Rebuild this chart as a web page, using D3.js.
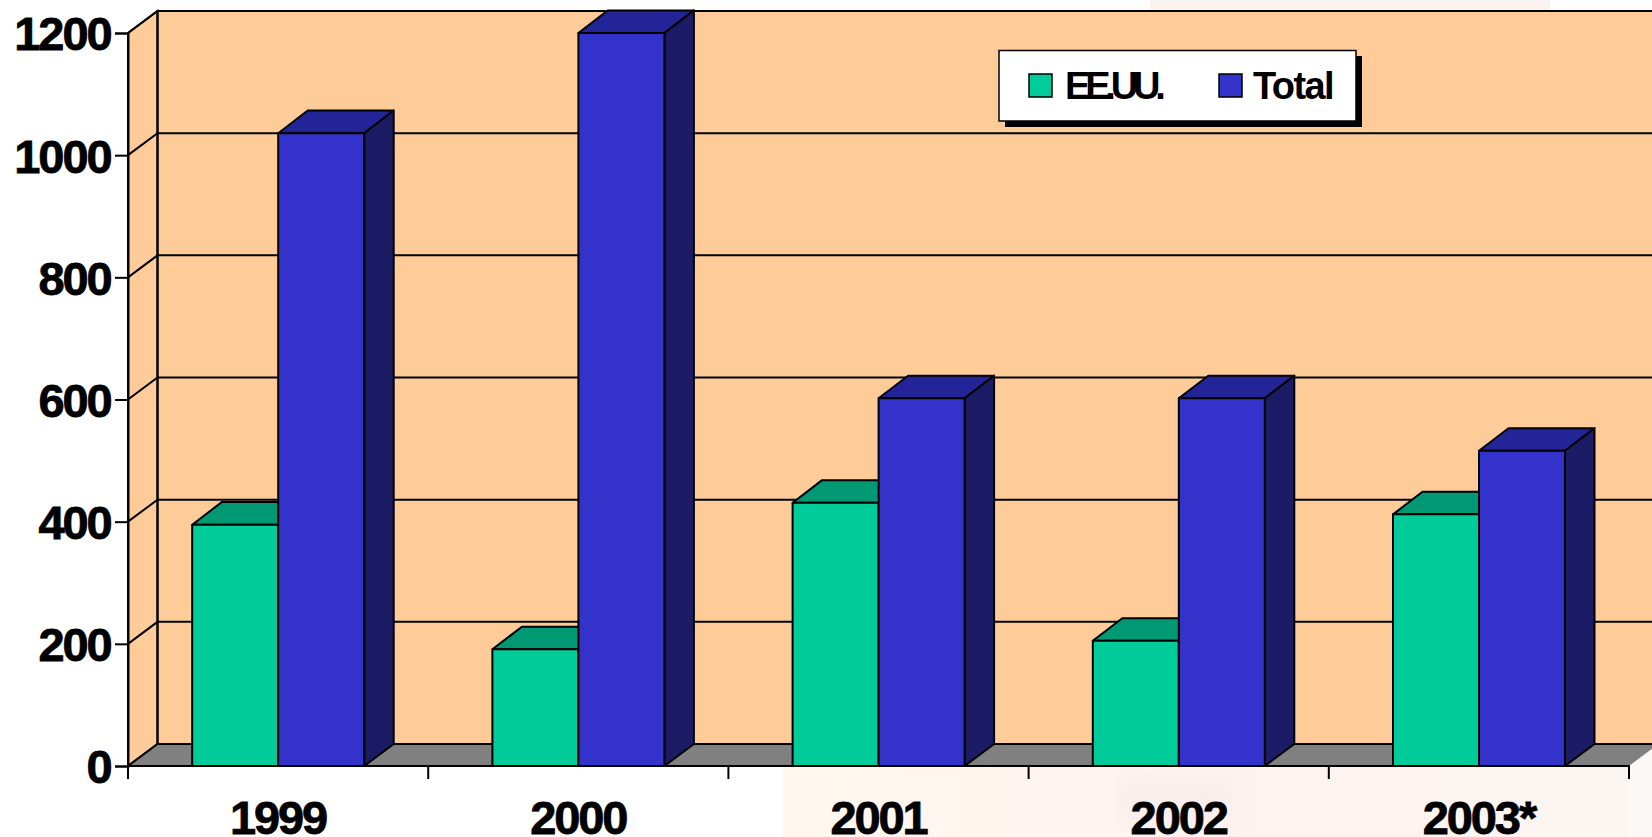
<!DOCTYPE html>
<html><head><meta charset="utf-8">
<script src="https://cdn.jsdelivr.net/npm/d3@7"></script>
<style>html,body{margin:0;padding:0;background:#fff;overflow:hidden}svg{display:block}</style>
</head><body><div id="chart"></div>
<script>
const categories = ["1999","2000","2001","2002","2003*"];
const seriesNames = ["EE.UU.","Total"];
const eeuu = [395,191,431,205,412];
const total = [1036,1200,602,602,516];
const yTicks = [0,200,400,600,800,1000,1200];

const W=1652,H=837, DX=29.5, DY=-22, BDY=-22.6;
const x = d3.scaleBand().domain(categories).range([128,1629]).paddingInner(0).paddingOuter(0);
const y = d3.scaleLinear().domain([0,1200]).range([766,33]);
const inner = d3.scaleBand().domain(seriesNames).range([64.2,236.2]);
const colors = {
  "EE.UU.":{front:"#00CC99",top:"#009973",side:"#006B50"},
  "Total":{front:"#3333CC",top:"#242499",side:"#1B1B66"}
};
const svg = d3.select("#chart").append("svg").attr("width",W).attr("height",H);
const stroke="#000";

// faint background image tones
const defs = svg.append("defs");
const g1 = defs.append("linearGradient").attr("id","bg").attr("x1",0).attr("x2",1).attr("y1",0).attr("y2",0);
g1.append("stop").attr("offset",0).attr("stop-color","#fff8f0");
g1.append("stop").attr("offset",0.5).attr("stop-color","#fdf2ef");
g1.append("stop").attr("offset",1).attr("stop-color","#fbf6f3");
defs.append("filter").attr("id","blur").append("feGaussianBlur").attr("stdDeviation",9);
svg.append("rect").attr("x",783).attr("y",766).attr("width",W-783).attr("height",H-766).attr("fill","url(#bg)");
svg.append("rect").attr("x",1629).attr("y",744).attr("width",23).attr("height",H-744).attr("fill","#fcf8f5");
svg.append("rect").attr("x",1150).attr("y",0).attr("width",400).attr("height",12).attr("fill","#fdf3ee");
svg.append("rect").attr("x",1120).attr("y",775).attr("width",110).attr("height",50).attr("fill","#ece8e6").attr("opacity",0.3).attr("filter","url(#blur)");

const sx=128, ex=x.range()[1];
const y0=y(0), yTop=y(1200);
const poly=(pts)=>d3.line()(pts);

// walls
svg.append("path").attr("d",poly([[sx+DX,yTop+DY],[W+5,yTop+DY],[W+5,y0+DY],[sx+DX,y0+DY]])+"Z").attr("fill","#FFCC99");
svg.append("path").attr("d",poly([[sx,yTop],[sx+DX,yTop+DY],[sx+DX,y0+DY],[sx,y0]])+"Z").attr("fill","#FFCC99").attr("stroke",stroke).attr("stroke-width",2);
// floor
svg.append("path").attr("d",poly([[sx,y0],[sx+DX,y0+DY],[W+5,y0+DY],[W+5,y0+DY+1],[ex,y0]])+"Z").attr("fill","#808080");
// grid
yTicks.forEach(t=>{
  svg.append("path").attr("d",poly([[sx,y(t)],[sx+DX,y(t)+DY],[W+5,y(t)+DY]])).attr("fill","none").attr("stroke",stroke).attr("stroke-width",2);
});
svg.append("line").attr("x1",sx+DX).attr("x2",sx+DX).attr("y1",yTop+DY).attr("y2",y0+DY).attr("stroke",stroke).attr("stroke-width",2);

// bars
const drawBar=(cat,name,v)=>{
  const c=colors[name];
  const a=x(cat)+inner(name), b=a+inner.bandwidth(), t=y(v), g=svg.append("g").attr("stroke",stroke).attr("stroke-width",2).attr("stroke-linejoin","round");
  g.append("path").attr("d",poly([[a,t],[a+DX,t+BDY],[b+DX,t+BDY],[b,t]])+"Z").attr("fill",c.top);
  g.append("path").attr("d",poly([[b,t],[b+DX,t+BDY],[b+DX,y0+DY],[b,y0]])+"Z").attr("fill",c.side);
  g.append("rect").attr("x",a).attr("y",t).attr("width",b-a).attr("height",y0-t).attr("fill",c.front);
};
categories.forEach((cat,i)=>{
  drawBar(cat,"EE.UU.",eeuu[i]);
  drawBar(cat,"Total",total[i]);
});

// axes
const font="'Liberation Sans',Arial,sans-serif";
const yAxis=d3.axisLeft(y).tickValues(yTicks).tickSize(13).tickPadding(4.5).tickFormat(d3.format("d"));
const yG=svg.append("g").attr("transform",`translate(${sx},0)`).call(yAxis);
const xAxis=d3.axisBottom(x).tickSize(13).tickPadding(0).tickValues([]);
const xG=svg.append("g").attr("transform",`translate(0,${y0})`).call(xAxis);
[yG,xG].forEach(g=>{g.selectAll("path.domain").attr("stroke",stroke).attr("stroke-width",2);g.selectAll("line").attr("stroke",stroke).attr("stroke-width",2);});
yG.selectAll("text").attr("font-family",font).attr("font-weight",700).attr("font-size",47).attr("letter-spacing",-2.1).attr("fill","#000").attr("stroke","#000").attr("stroke-width",0.8).attr("dy","0.36em");
xG.select("path.domain").attr("d",`M${sx},13V0H${ex}V13`);
categories.forEach((c,i)=>{
  const mid=x(c)+x.bandwidth()/2;
  if(i>0) xG.append("line").attr("x1",x(c)).attr("x2",x(c)).attr("y1",0).attr("y2",13).attr("stroke",stroke).attr("stroke-width",2);
  xG.append("text").attr("x",mid).attr("y",68).attr("text-anchor","middle").attr("font-family",font).attr("font-weight",700).attr("font-size",47).attr("letter-spacing",-2.1).attr("fill","#000").attr("stroke","#000").attr("stroke-width",0.8).text(c);
});

// legend
const lg=svg.append("g");
lg.append("rect").attr("x",1005).attr("y",56).attr("width",357).attr("height",71).attr("fill","#000");
lg.append("rect").attr("x",999).attr("y",50.5).attr("width",357).attr("height",70.5).attr("fill","#fff").attr("stroke",stroke).attr("stroke-width",1.5);
const legX=[1029,1219], txtX=[1065,1253], legSpacing=[-5.2,-1.6];
seriesNames.forEach((n,i)=>{
  lg.append("rect").attr("x",legX[i]).attr("y",74).attr("width",23).attr("height",23).attr("fill",colors[n].front).attr("stroke",stroke).attr("stroke-width",1.5);
  lg.append("text").attr("x",txtX[i]).attr("y",98.5).attr("font-family",font).attr("font-weight",700).attr("font-size",38).attr("letter-spacing",legSpacing[i]).attr("fill","#000").text(n);
});
</script></body></html>
